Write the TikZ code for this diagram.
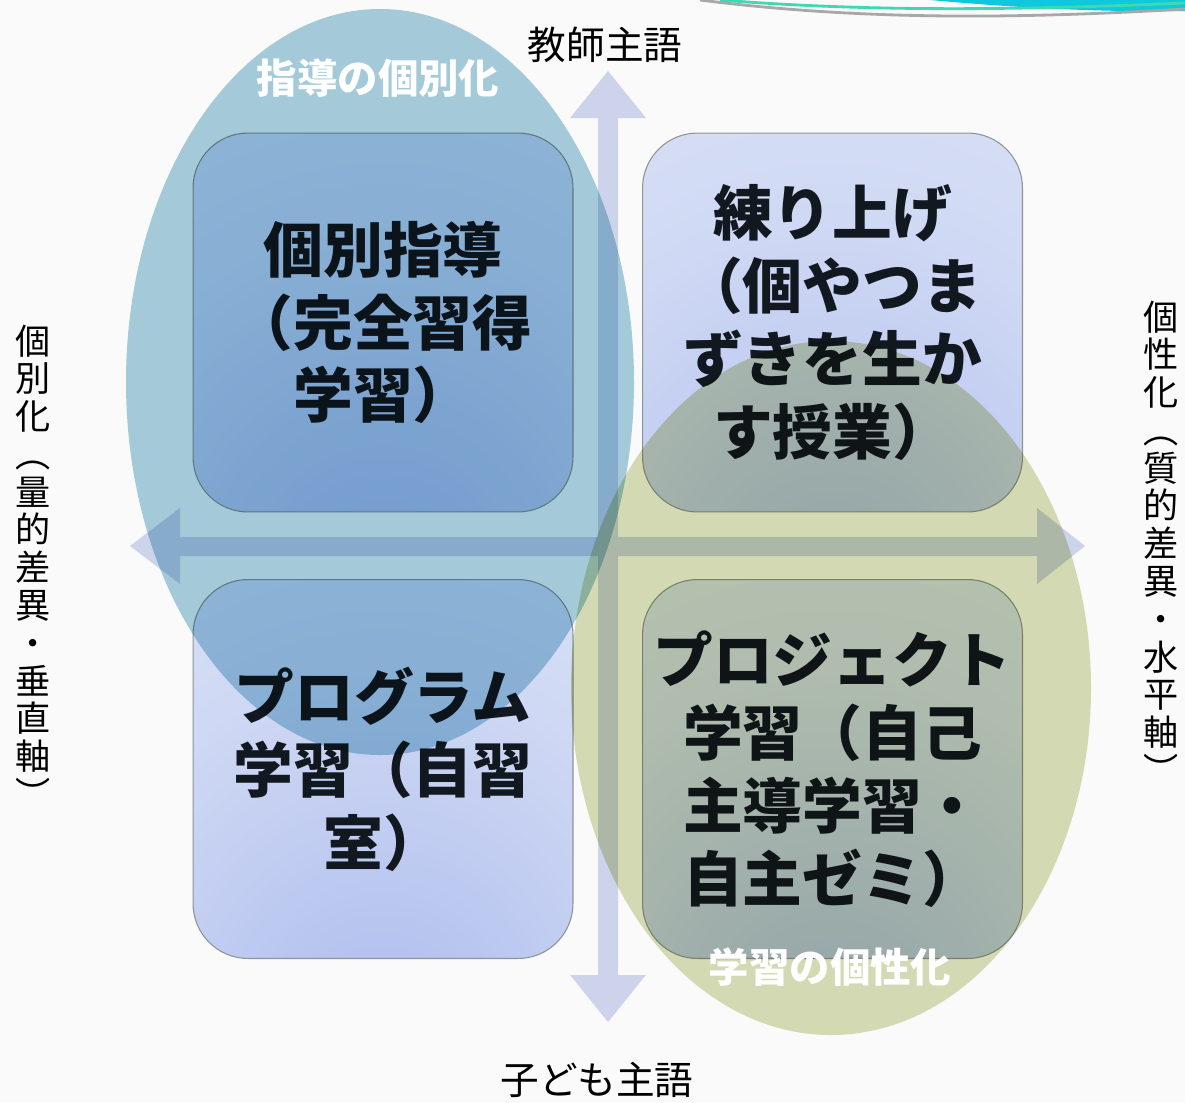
\documentclass[tikz,border=0pt]{standalone}
\usepackage{fontspec}
\newfontfamily\jp{Noto Sans CJK JP}
\definecolor{bg}{HTML}{FAFAFA}
\definecolor{boxA}{HTML}{AABAEC}
\definecolor{boxB}{HTML}{D0D9F4}
\definecolor{boxC}{HTML}{EAEEFA}
\definecolor{ellblue}{HTML}{A8CFDE}
\definecolor{ellgreen}{HTML}{D8DEB6}
\definecolor{axiscol}{HTML}{CCD3EA}
\definecolor{boxline}{HTML}{8C9494}
\definecolor{txt}{HTML}{121820}
\definecolor{swcyan}{HTML}{10C8DE}
\definecolor{swgreen}{HTML}{3FD8B0}
\definecolor{swgray}{HTML}{A8A8A8}
\pgfdeclareradialshading{boxshade}{\pgfpoint{0bp}{-40bp}}{color(0bp)=(boxA); color(40bp)=(boxB); color(90bp)=(boxC); color(110bp)=(boxC)}
\tikzset{
  qbox/.style={rounded corners=1.1cm, minimum width=7.6cm, minimum height=7.58cm,
    shading=boxshade, draw=boxline, line width=0.6pt, inner sep=0pt, align=center,
    font=\jp\bfseries\fontsize{34pt}{41.5pt}\selectfont, text=txt},
  axislbl/.style={inner sep=0pt, font=\jp\fontsize{22pt}{26pt}\selectfont, text=black},
  vlbl/.style={inner sep=0pt, align=center, font=\jp\fontsize{20pt}{21.5pt}\selectfont, text=black},
  ell/.style={inner sep=0pt, font=\jp\bfseries\fontsize{23pt}{26pt}\selectfont, text=white}
}
\begin{document}
\begin{tikzpicture}[x=0.02cm, y=-0.02cm]
\useasboundingbox (0,0) rectangle (1185,1102);
\fill[bg] (0,0) rectangle (1185,1102);
% top-right swoosh
\fill[swcyan] (930,0) .. controls (1040,10) and (1120,12) .. (1185,11) -- (1185,0) -- cycle;
\draw[swgray, line width=1.6pt] (700,0) .. controls (850,19) and (1000,20) .. (1185,9);
\draw[swgreen, line width=1.6pt] (720,0) .. controls (860,11) and (1000,11) .. (1185,3);
% axes
\fill[axiscol] (598,118) -- (570,118) -- (608,71) -- (646,118) -- (618,118) -- (618,537)
  -- (1037,537) -- (1037,508) -- (1085,546) -- (1037,584) -- (1037,556) -- (618,556)
  -- (618,975) -- (646,975) -- (608,1022) -- (570,975) -- (598,975) -- (598,556)
  -- (180,556) -- (180,584) -- (130,546) -- (180,508) -- (180,537) -- (598,537) -- cycle;
% quadrant boxes
\node[qbox] (tl) at (383,322.5) {個別指導\\（完全習得\\学習）};
\node[qbox] (tr) at (832.5,322.5) {練り上げ\\（個やつま\\ずきを生か\\す授業）};
\node[qbox] (bl) at (383,769) {プログラム\\学習（自習\\室）};
\node[qbox] (br) at (832.5,769) {プロジェクト\\学習（自己\\主導学習・\\自主ゼミ）};
% ellipses
\begin{scope}[blend mode=multiply]
\fill[ellblue] (380,382) ellipse [x radius=254, y radius=373];
\fill[ellgreen] (831,688) ellipse [x radius=260, y radius=347];
\end{scope}
% labels
\node[ell] (lblA) at (378,78) {指導の個別化};
\node[ell] (lblB) at (830,967) {学習の個性化};
\node[axislbl] (top) at (605,45) {教師主語};
\node[axislbl] (bot) at (597,1080) {子ども主語};
\node[vlbl] (left) at (33,566) {個\\別\\化\\︵\\量\\的\\差\\異\\・\\垂\\直\\軸\\︶};
\node[vlbl] (right) at (1161,542) {個\\性\\化\\︵\\質\\的\\差\\異\\・\\水\\平\\軸\\︶};
\end{tikzpicture}
\end{document}
